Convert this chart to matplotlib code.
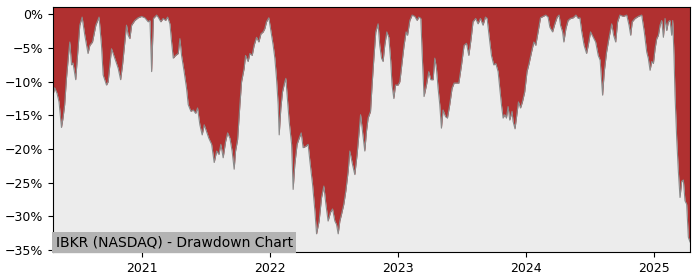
import matplotlib
matplotlib.use("Agg")
import matplotlib.pyplot as plt
import matplotlib.dates as mdates
import matplotlib.ticker as mticker
import numpy as np
import pandas as pd

title = "IBKR (NASDAQ) - Drawdown Chart"

# time in fractional years
t = [2020.307, 2020.320, 2020.338, 2020.354, 2020.373, 2020.385, 2020.398, 2020.412, 2020.430, 2020.438,
     2020.451, 2020.463, 2020.484, 2020.502, 2020.516, 2020.534, 2020.555, 2020.580, 2020.594, 2020.615,
     2020.641, 2020.666, 2020.685, 2020.698, 2020.724, 2020.737, 2020.763, 2020.776, 2020.797, 2020.815,
     2020.834, 2020.849, 2020.867, 2020.880, 2020.893, 2020.906, 2020.920, 2020.945, 2020.971, 2020.998,
     2021.023, 2021.049, 2021.063, 2021.076, 2021.090, 2021.115, 2021.127, 2021.148, 2021.166, 2021.185,
     2021.201, 2021.219, 2021.232, 2021.245, 2021.263, 2021.284, 2021.297, 2021.310, 2021.330, 2021.349,
     2021.362, 2021.383, 2021.401, 2021.420, 2021.435, 2021.453, 2021.471, 2021.487, 2021.505, 2021.523,
     2021.545, 2021.565, 2021.584, 2021.602, 2021.617, 2021.635, 2021.654, 2021.670, 2021.688, 2021.705,
     2021.721, 2021.732, 2021.748, 2021.766, 2021.779, 2021.799, 2021.810, 2021.830, 2021.844, 2021.862,
     2021.877, 2021.896, 2021.914, 2021.930, 2021.948, 2021.961, 2021.974, 2021.992, 2022.005, 2022.026,
     2022.039, 2022.052, 2022.065, 2022.073, 2022.086, 2022.099, 2022.117, 2022.125, 2022.135, 2022.151,
     2022.170, 2022.182, 2022.195, 2022.213, 2022.229, 2022.245, 2022.260, 2022.281, 2022.299, 2022.313,
     2022.334, 2022.352, 2022.365, 2022.385, 2022.404, 2022.422, 2022.438, 2022.455, 2022.474, 2022.490,
     2022.508, 2022.521, 2022.534, 2022.547, 2022.560, 2022.578, 2022.594, 2022.612, 2022.625, 2022.646,
     2022.664, 2022.682, 2022.698, 2022.709, 2022.724, 2022.742, 2022.755, 2022.768, 2022.787, 2022.799,
     2022.813, 2022.828, 2022.846, 2022.859, 2022.873, 2022.885, 2022.898, 2022.914, 2022.930, 2022.945,
     2022.955, 2022.969, 2022.982, 2023.002, 2023.016, 2023.034, 2023.049, 2023.065, 2023.076, 2023.094,
     2023.112, 2023.133, 2023.151, 2023.164, 2023.180, 2023.190, 2023.205, 2023.224, 2023.242, 2023.258,
     2023.276, 2023.289, 2023.302, 2023.315, 2023.328, 2023.341, 2023.354, 2023.373, 2023.388, 2023.406,
     2023.424, 2023.440, 2023.459, 2023.477, 2023.498, 2023.518, 2023.537, 2023.555, 2023.573, 2023.588,
     2023.609, 2023.627, 2023.646, 2023.666, 2023.685, 2023.698, 2023.713, 2023.732, 2023.750, 2023.766,
     2023.784, 2023.797, 2023.810, 2023.823, 2023.836, 2023.849, 2023.862, 2023.875, 2023.893, 2023.901,
     2023.916, 2023.927, 2023.943, 2023.959, 2023.974, 2023.992, 2024.010, 2024.026, 2024.045, 2024.063,
     2024.078, 2024.096, 2024.115, 2024.135, 2024.156, 2024.174, 2024.188, 2024.209, 2024.227, 2024.245,
     2024.260, 2024.271, 2024.287, 2024.297, 2024.313, 2024.330, 2024.349, 2024.370, 2024.391, 2024.409,
     2024.422, 2024.435, 2024.455, 2024.474, 2024.487, 2024.505, 2024.526, 2024.545, 2024.565, 2024.580,
     2024.599, 2024.612, 2024.630, 2024.648, 2024.670, 2024.685, 2024.701, 2024.716, 2024.734, 2024.760,
     2024.787, 2024.805, 2024.818, 2024.830, 2024.852, 2024.877, 2024.904, 2024.924, 2024.943, 2024.955,
     2024.969, 2024.982, 2024.995, 2025.008, 2025.021, 2025.034, 2025.047, 2025.060, 2025.073, 2025.086,
     2025.099, 2025.112, 2025.125, 2025.138, 2025.146, 2025.156, 2025.164, 2025.177, 2025.190, 2025.203,
     2025.216, 2025.229, 2025.242, 2025.255, 2025.268, 2025.281]

drawdown = [-12.0, -10.9, -11.7, -13.0, -16.8, -15.4, -13.4, -9.5, -5.6, -4.1,
            -7.5, -7.2, -9.7, -5.1, -1.6, -0.4, -3.1, -5.8, -4.6, -4.1,
            -1.6, -0.4, -4.6, -9.0, -10.5, -10.0, -5.1, -5.8, -7.0, -8.0,
            -9.7, -7.5, -4.1, -1.6, -3.1, -3.6, -1.6, -0.9, -0.5, -0.3,
            -0.5, -1.1, -0.9, -8.5, -0.6, -0.1, -0.4, -1.1, -0.6, -0.9,
            -0.4, -1.4, -4.1, -6.5, -6.1, -5.8, -3.6, -6.1, -8.5, -11.0,
            -13.4, -14.4, -14.2, -14.7, -13.9, -16.4, -17.9, -16.4, -17.4, -18.4,
            -19.3, -22.0, -20.3, -20.8, -19.3, -21.3, -18.9, -17.6, -18.4, -20.3,
            -23.0, -20.3, -18.6, -13.4, -10.0, -8.0, -6.1, -7.0, -5.8, -6.1,
            -4.6, -3.4, -4.1, -2.9, -2.6, -2.1, -1.1, -0.5, -2.1, -4.6,
            -6.5, -9.5, -13.4, -17.9, -13.9, -11.5, -10.0, -9.5, -12.0, -15.9,
            -19.3, -26.0, -22.3, -19.3, -18.4, -17.6, -19.8, -19.6, -19.3, -21.8,
            -25.3, -29.2, -32.6, -30.7, -27.2, -25.5, -28.2, -30.7, -29.4, -28.9,
            -30.7, -31.2, -32.6, -30.7, -29.7, -28.2, -26.2, -23.3, -20.3, -22.3,
            -23.8, -20.8, -17.4, -14.9, -17.4, -20.3, -17.4, -15.4, -14.4, -10.5,
            -6.5, -2.6, -1.4, -4.6, -6.5, -7.0, -4.6, -2.6, -3.4, -7.0,
            -10.5, -12.5, -10.5, -10.5, -10.0, -7.0, -4.6, -2.6, -3.1, -0.9,
            -0.1, -0.3, -0.9, -0.4, -0.6, -5.6, -12.2, -10.5, -8.5, -9.7,
            -9.7, -6.5, -8.0, -11.0, -13.4, -16.9, -14.2, -15.2, -15.4, -13.4,
            -11.0, -10.2, -10.2, -10.2, -7.5, -4.6, -4.3, -6.1, -3.6, -1.1,
            -0.6, -1.4, -0.6, -1.6, -0.4, -0.6, -3.1, -6.1, -7.5, -7.3,
            -8.5, -11.0, -13.4, -15.4, -14.9, -15.4, -13.7, -15.7, -14.4, -15.9,
            -17.0, -15.4, -13.0, -13.9, -13.0, -11.5, -8.5, -7.3, -5.6, -4.1,
            -4.6, -2.6, -0.5, -0.3, -0.1, -0.4, -1.9, -2.6, -1.4, -0.4,
            -0.1, -1.6, -2.6, -4.1, -2.1, -0.9, -0.6, -0.5, -0.1, -0.6,
            -0.5, -2.4, -4.6, -5.8, -4.6, -2.6, -3.4, -4.1, -6.1, -6.8,
            -12.0, -8.5, -5.6, -3.6, -1.4, -3.1, -4.1, -1.1, -0.1, -0.3,
            -0.1, -1.6, -3.1, -1.1, -0.6, -0.3, -0.1, -2.6, -5.6, -6.5,
            -8.3, -7.0, -7.3, -5.1, -3.6, -3.1, -1.6, -0.9, -3.4, -0.6,
            -2.4, -1.1, -0.9, -3.1, -0.9, -6.1, -12.0, -18.4, -23.3, -27.2,
            -24.8, -24.6, -27.7, -28.2, -33.1, -33.8]

y_ticks = [0, -5, -10, -15, -20, -25, -30, -35]


def frac_year_to_date(v):
    y = int(np.floor(v))
    start = pd.Timestamp(year=y, month=1, day=1)
    end = pd.Timestamp(year=y + 1, month=1, day=1)
    return start + (end - start) * (v - y)


dates = [frac_year_to_date(v) for v in t]

y_lo, y_hi = -35.3, 1.1

fig = plt.figure(figsize=(7, 2.8), dpi=100)
ax = fig.add_axes([0.0757, 0.1, 0.91, 0.875])
ax.set_facecolor("#ececec")

ax.fill_between(dates, drawdown, y_hi, color="#b03030", linewidth=0)
ax.plot(dates, drawdown, color="#8a8a8a", linewidth=0.8)

ax.set_xlim(dates[0], dates[-1])
ax.set_ylim(y_lo, y_hi)
ax.set_yticks(y_ticks)
ax.yaxis.set_major_formatter(mticker.FuncFormatter(lambda v, p: f"{int(round(v))}%".replace("-", "\u2212")))
ax.xaxis.set_major_locator(mdates.YearLocator())
ax.xaxis.set_major_formatter(mdates.DateFormatter("%Y"))
ax.tick_params(labelsize=9)

ax.text(0.004, 0.012, title, transform=ax.transAxes, fontsize=10, ha="left", va="bottom",
        bbox=dict(facecolor="#b3b3b3", edgecolor="none", pad=2.5), zorder=5)

fig.savefig("out.png", dpi=100)
